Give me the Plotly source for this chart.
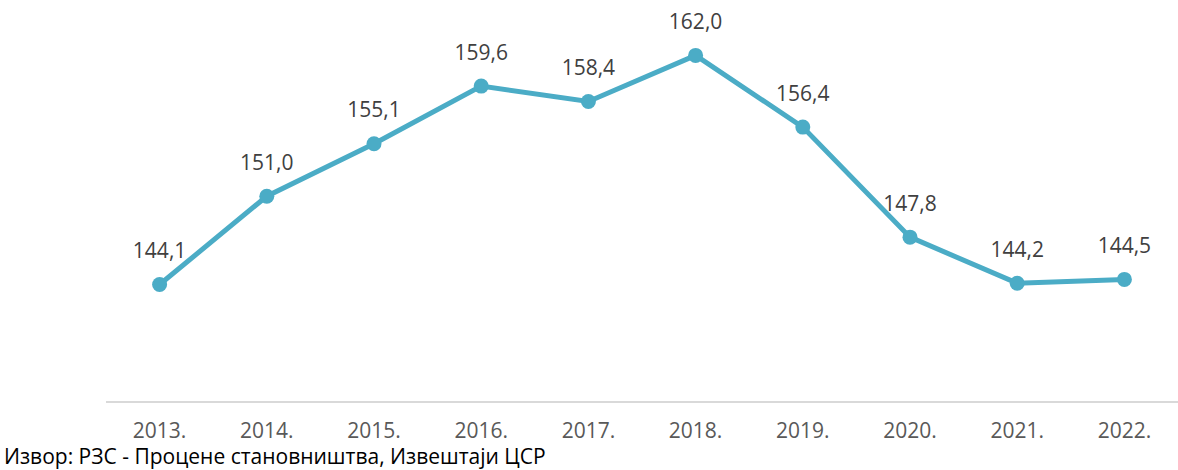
import plotly.graph_objects as go

years = ["2013.", "2014.", "2015.", "2016.", "2017.", "2018.", "2019.", "2020.", "2021.", "2022."]
values = [144.1, 151.0, 155.1, 159.6, 158.4, 162.0, 156.4, 147.8, 144.2, 144.5]
source_text = "Извор: РЗС - Процене становништва, Извештаји ЦСР"

FONT = "Open Sans"
W, H = 1178, 470
ml, mr, mt, mb = 106, 0, 17, 69

fig = go.Figure()
fig.add_trace(go.Scatter(
    x=years, y=values,
    mode="lines+markers",
    line=dict(color="#4BACC6", width=5),
    marker=dict(color="#4BACC6", size=15),
    hoverinfo="skip",
))
fig.add_trace(go.Scatter(
    x=years, y=values,
    mode="markers+text",
    marker=dict(color="rgba(0,0,0,0)", size=32),
    texttemplate="%{y:.1f}",
    textposition="top center",
    textfont=dict(family=FONT, size=21, color="#404040"),
    cliponaxis=False,
    hoverinfo="skip",
))

fig.update_layout(
    width=W, height=H,
    margin=dict(l=ml, r=mr, t=mt, b=mb),
    paper_bgcolor="white", plot_bgcolor="white",
    separators=", ",
    showlegend=False,
    font=dict(family=FONT, color="#595959"),
    xaxis=dict(
        type="category",
        showgrid=False, zeroline=False,
        showline=True, linecolor="#D9D9D9", linewidth=2,
        ticks="outside", ticklen=10, tickcolor="rgba(0,0,0,0)",
        tickfont=dict(family=FONT, size=21, color="#595959"),
        range=[-0.5, len(years) - 0.5],
        fixedrange=True,
    ),
    yaxis=dict(
        range=[135, 165],
        visible=False,
        showgrid=False, zeroline=False,
        fixedrange=True,
    ),
)

fig.add_annotation(
    text=source_text,
    xref="paper", yref="paper",
    x=(2 - ml) / (W - ml - mr), y=(401 - 456) / (H - mt - mb),
    xanchor="left", yanchor="middle",
    showarrow=False,
    font=dict(family=FONT, size=21, color="#000000"),
)

fig.write_html("out.html", config={"displayModeBar": False},
               post_script="document.body.style.margin='0';")
